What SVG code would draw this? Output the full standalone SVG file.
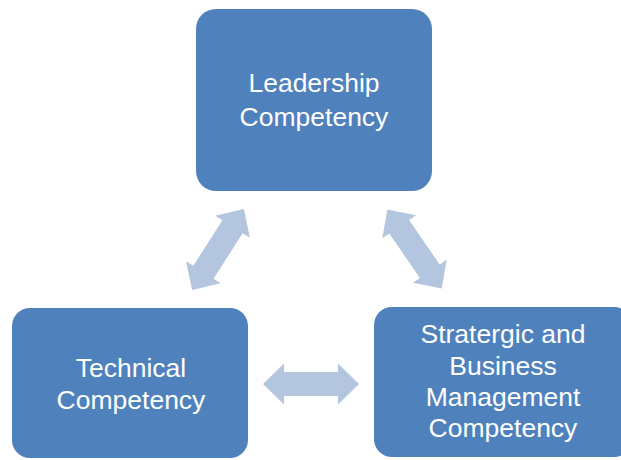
<svg xmlns="http://www.w3.org/2000/svg" width="621" height="460" viewBox="0 0 621 460">
<style>
.box{fill:#4F81BD;}
.lbl{font-family:"Liberation Sans",Arial,sans-serif;font-size:26.5px;fill:#FFFFFF;text-anchor:middle;}
.arr{fill:#B4C5DF;}
</style>
<defs>
<path id="dbl" d="M-48,0 L-27,-20.5 L-27,-12 L27,-12 L27,-20.5 L48,0 L27,20.5 L27,12 L-27,12 L-27,20.5 Z"/>
</defs>
<rect width="621" height="460" fill="#FFFFFF"/>
<g id="connectors">
<use href="#dbl" class="arr" transform="translate(218,249.5) rotate(-57.3)"/>
<use href="#dbl" class="arr" transform="translate(414.5,249) rotate(55.5)"/>
<use href="#dbl" class="arr" transform="translate(311,384)"/>
</g>
<g id="leadership">
<rect class="box" x="196" y="9" width="236" height="182" rx="20"/>
<text class="lbl" x="314" y="92">Leadership</text>
<text class="lbl" x="314" y="126">Competency</text>
</g>
<g id="technical">
<rect class="box" x="12" y="308" width="236" height="150" rx="18"/>
<text class="lbl" x="131" y="377">Technical</text>
<text class="lbl" x="131" y="409">Competency</text>
</g>
<g id="strategic">
<rect class="box" x="374" y="307" width="258" height="150" rx="18"/>
<text class="lbl" x="503" y="343">Stratergic and</text>
<text class="lbl" x="503" y="375">Business</text>
<text class="lbl" x="503" y="406">Management</text>
<text class="lbl" x="503" y="437">Competency</text>
</g>
</svg>
